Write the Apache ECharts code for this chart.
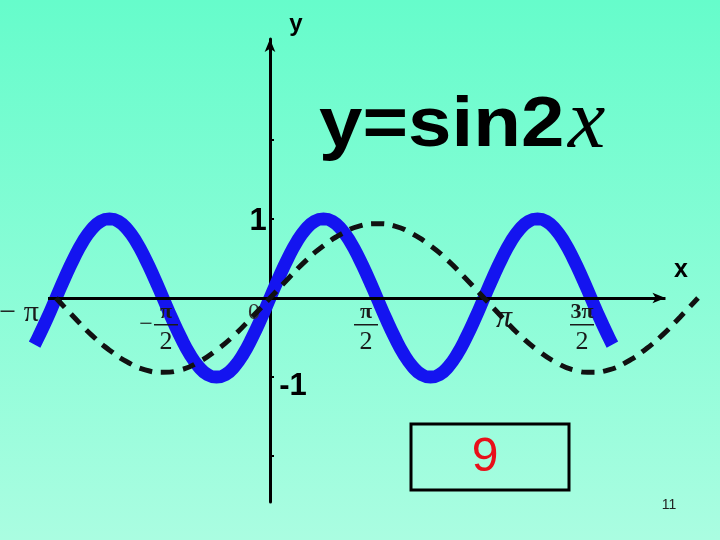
<!DOCTYPE html>
<html>
<head>
<meta charset="utf-8">
<script src="https://cdn.jsdelivr.net/npm/echarts@6/dist/echarts.min.js"></script>
<style>html,body{margin:0;padding:0;}#c{width:720px;height:540px;}</style>
</head>
<body>
<div id="c"></div>
<script>
// x values are in units of π
const blueX = [-1.1, -1.0833, -1.0417, -1, -0.9583, -0.9167, -0.875, -0.8333, -0.7917, -0.75, -0.7083, -0.6667, -0.625, -0.5833, -0.5417, -0.5, -0.4583, -0.4167, -0.375, -0.3333, -0.2917, -0.25, -0.2083, -0.1667, -0.125, -0.0833, -0.0417, 0, 0.0417, 0.0833, 0.125, 0.1667, 0.2083, 0.25, 0.2917, 0.3333, 0.375, 0.4167, 0.4583, 0.5, 0.5417, 0.5833, 0.625, 0.6667, 0.7083, 0.75, 0.7917, 0.8333, 0.875, 0.9167, 0.9583, 1, 1.0417, 1.0833, 1.125, 1.1667, 1.2083, 1.25, 1.2917, 1.3333, 1.375, 1.4167, 1.4583, 1.5, 1.5417, 1.5833, 1.6];
const blueY = [-0.59, -0.5, -0.26, 0, 0.26, 0.5, 0.71, 0.87, 0.97, 1, 0.97, 0.87, 0.71, 0.5, 0.26, 0, -0.26, -0.5, -0.71, -0.87, -0.97, -1, -0.97, -0.87, -0.71, -0.5, -0.26, 0, 0.26, 0.5, 0.71, 0.87, 0.97, 1, 0.97, 0.87, 0.71, 0.5, 0.26, 0, -0.26, -0.5, -0.71, -0.87, -0.97, -1, -0.97, -0.87, -0.71, -0.5, -0.26, 0, 0.26, 0.5, 0.71, 0.87, 0.97, 1, 0.97, 0.87, 0.71, 0.5, 0.26, 0, -0.26, -0.5, -0.59];
const dashX = [-1, -0.9167, -0.8333, -0.75, -0.6667, -0.5833, -0.5, -0.4167, -0.3333, -0.25, -0.1667, -0.0833, 0, 0.0833, 0.1667, 0.25, 0.3333, 0.4167, 0.5, 0.5833, 0.6667, 0.75, 0.8333, 0.9167, 1, 1.0833, 1.1667, 1.25, 1.3333, 1.4167, 1.5, 1.5833, 1.6667, 1.75, 1.8333, 1.9167, 2];
const dashY = [0, -0.24, -0.47, -0.66, -0.81, -0.91, -0.94, -0.91, -0.81, -0.66, -0.47, -0.24, 0, 0.24, 0.47, 0.66, 0.81, 0.91, 0.94, 0.91, 0.81, 0.66, 0.47, 0.24, 0, -0.24, -0.47, -0.66, -0.81, -0.91, -0.94, -0.91, -0.81, -0.66, -0.47, -0.24, 0];
const xTickValues = [-1, -0.5, 0, 0.5, 1, 1.5];
const xTickSigns = ['−', '−', '', '', '', ''];
const xTickNums = ['π', 'π', '0', 'π', 'π', '3π'];
const xTickDens = ['', '2', '', '2', '', '2'];
const yTickValues = [-2, -1, 1, 2];
const yLabelValues = [1, -1];
const yLabelTexts = ['1', '-1'];
const titleMain = 'y=sin2';
const titleVar = 'x';
const boxText = '9';
const pageNumber = '11';

// drawn x-axis extent (in π units)
const xAxisFrom = -1.0374, xAxisTo = 1.848;

const chart = echarts.init(document.getElementById('c'), null, {renderer: 'canvas'});
const zip = (a, b) => a.map((v, i) => [v, b[i]]);

chart.setOption({
  animation: false,
  backgroundColor: {type: 'linear', x: 0, y: 0, x2: 0, y2: 1,
    colorStops: [{offset: 0, color: '#66FCCB'}, {offset: 1, color: '#AAFDE1'}]},
  grid: {left: 13.2, top: 39, width: 706.2, height: 463, containLabel: false},
  xAxis: {
    type: 'value', min: -1.2, max: 2.1,
    axisLine: {show: false},
    axisTick: {show: false}, axisLabel: {show: false}, splitLine: {show: false}
  },
  yAxis: {
    type: 'value', min: -2.582, max: 3.278,
    axisLine: {onZero: true, symbol: ['none', 'arrow'], symbolSize: [8, 13],
      lineStyle: {color: '#000', width: 3}},
    axisTick: {show: true, customValues: yTickValues, inside: true, length: 4,
      lineStyle: {color: '#000', width: 2}},
    axisLabel: {show: false}, splitLine: {show: false}
  },
  series: [
    {type: 'line', data: [], z: 1, silent: true,
      markLine: {silent: true, animation: false, symbol: ['none', 'arrow'], symbolSize: [8, 13],
        label: {show: false}, emphasis: {disabled: true},
        lineStyle: {type: 'solid', color: '#000', width: 3},
        data: [[{coord: [xAxisFrom, 0]}, {coord: [xAxisTo, 0]}]]}},
    {type: 'line', data: zip(blueX, blueY), smooth: true, showSymbol: false,
      lineStyle: {color: '#1414F0', width: 13, cap: 'butt'}, z: 3},
    {type: 'line', data: zip(dashX, dashY), smooth: true, showSymbol: false,
      lineStyle: {color: '#111', width: 5, type: [13, 9]}, z: 5}
  ]
});

// tick label layout (offsets relative to tick position on the x axis)
const xLabelDx = [-37, 3, -16, -11, 20, -9];
const serif = '"Liberation Serif", "DejaVu Serif", serif';
const sans = '"Liberation Sans", Arial, sans-serif';
const g = [];
const LZ = 4;
xTickValues.forEach((v, i) => {
  const p = chart.convertToPixel({xAxisIndex: 0, yAxisIndex: 0}, [v, 0]);
  const cx = p[0] + xLabelDx[i], cy = p[1];
  if (xTickDens[i]) {
    g.push({type: 'text', z: LZ, x: cx, y: cy + 14, style: {text: xTickNums[i], font: 'bold 22px ' + serif, fill: '#1a1a1a', textAlign: 'center', textVerticalAlign: 'middle'}});
    g.push({type: 'rect', z: LZ, shape: {x: cx - 12, y: cy + 26, width: 24, height: 1.5}, style: {fill: '#1a1a1a'}});
    g.push({type: 'text', z: LZ, x: cx, y: cy + 44, style: {text: xTickDens[i], font: '26px ' + serif, fill: '#1a1a1a', textAlign: 'center', textVerticalAlign: 'middle'}});
    if (xTickSigns[i]) {
      g.push({type: 'text', z: LZ, x: cx - 20, y: cy + 27, style: {text: xTickSigns[i], font: '24px ' + serif, fill: '#1a1a1a', textAlign: 'center', textVerticalAlign: 'middle'}});
    }
  } else if (xTickNums[i] === '0') {
    g.push({type: 'text', z: LZ, x: cx, y: cy + 15, style: {text: xTickNums[i], font: '24px ' + serif, fill: '#333', textAlign: 'center', textVerticalAlign: 'middle'}});
  } else if (xTickSigns[i]) {
    g.push({type: 'text', z: LZ, x: cx, y: cy + 15, style: {text: xTickSigns[i] + ' ' + xTickNums[i], font: '30px ' + serif, fill: '#1a1a1a', textAlign: 'center', textVerticalAlign: 'middle'}});
  } else {
    g.push({type: 'text', z: LZ, x: cx, y: cy + 21, style: {text: xTickNums[i], font: 'italic 32px ' + serif, fill: '#1a1a1a', textAlign: 'center', textVerticalAlign: 'middle'}});
  }
});
const yLabelDx = [-12, 23];
const yLabelDy = [2, 9];
yLabelValues.forEach((v, i) => {
  const p = chart.convertToPixel({xAxisIndex: 0, yAxisIndex: 0}, [0, v]);
  g.push({type: 'text', z: LZ, x: p[0] + yLabelDx[i], y: p[1] + yLabelDy[i],
    style: {text: yLabelTexts[i], font: 'bold 31px ' + sans, fill: '#000', textAlign: 'center', textVerticalAlign: 'middle'}});
});
// axis names
g.push({type: 'text', x: 296, y: 24, style: {text: 'y', font: 'bold 24px ' + sans, fill: '#000', textAlign: 'center', textVerticalAlign: 'middle'}});
g.push({type: 'text', x: 681, y: 270, style: {text: 'x', font: 'bold 25px ' + sans, fill: '#000', textAlign: 'center', textVerticalAlign: 'middle'}});
// title
g.push({type: 'text', x: 319, y: 126, scaleX: 1.1, style: {text: titleMain, font: 'bold 71px ' + sans, fill: '#000', textAlign: 'left', textVerticalAlign: 'middle'}});
g.push({type: 'text', x: 568, y: 125, style: {text: titleVar, font: 'italic 84px ' + serif, fill: '#000', textAlign: 'left', textVerticalAlign: 'middle'}});
// box
g.push({type: 'rect', shape: {x: 411, y: 424, width: 158, height: 66}, style: {fill: 'none', stroke: '#000', lineWidth: 3}});
g.push({type: 'text', x: 485, y: 458, style: {text: boxText, font: '48px ' + sans, fill: '#E8101A', textAlign: 'center', textVerticalAlign: 'middle'}});
g.push({type: 'text', x: 669, y: 505, style: {text: pageNumber, font: '14px ' + sans, fill: '#222', textAlign: 'center', textVerticalAlign: 'middle'}});
chart.setOption({graphic: g});
</script>
</body>
</html>
